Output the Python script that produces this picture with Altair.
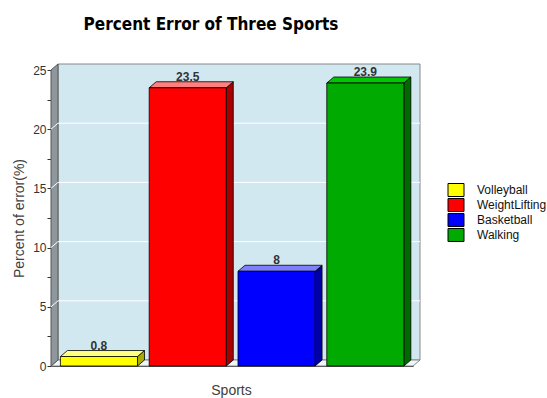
import altair as alt
import pandas as pd

# ---- data ----
sports = ["Volleyball", "WeightLifting", "Basketball", "Walking"]
errors = [0.8, 23.5, 8, 23.9]

# face shading for each bar: front, top (lit) and side (shadow)
front_colors = ["#FFFF00", "#FF0000", "#0000FF", "#00AA00"]
top_colors = ["#FFFF80", "#FF8080", "#8080FF", "#00C800"]
side_colors = ["#AAAA00", "#A80000", "#0000A8", "#006A00"]

Y_MAX = 25
y_tick_values = [0, 2.5, 5, 7.5, 10, 12.5, 15, 17.5, 20, 22.5, 25]
grid_values = [5, 10, 15, 20]

# ---- layout ----
PLOT_W, PLOT_H = 362, 296
DEPTH_X_PX, DEPTH_Y_PX = 7, 6
X_MIN, X_MAX = -0.54, 3.537
BAR_HALF = 0.434

# 3-D depth expressed in data units of each axis
dx = DEPTH_X_PX * (X_MAX - X_MIN) / PLOT_W
dy = DEPTH_Y_PX * Y_MAX / PLOT_H

FONT = "Liberation Sans"
TITLE_FONT = "Liberation Sans Narrow, DejaVu Sans Condensed, sans-serif"
TEXT_GREY = "#404040"

x_scale = alt.Scale(domain=[X_MIN, X_MAX], nice=False, zero=False)
y_scale = alt.Scale(domain=[0, Y_MAX], nice=False, zero=False)

x_axis = alt.Axis(
    title="Sports", labels=False, ticks=False, grid=False,
    domain=True, domainColor="#333333",
    titleFont=FONT, titleFontSize=14, titleFontWeight="normal",
    titleColor=TEXT_GREY, titleX=180, titleY=24,
    titleBaseline="middle", titleAlign="center",
)
y_axis = alt.Axis(
    values=y_tick_values,
    labelExpr="datum.value % 5 === 0 ? datum.label : ''",
    tickSize=4, tickColor="#333333", domainColor="#333333",
    labelFont=FONT, labelFontSize=12, labelColor="#333333",
    labelPadding=1, labelFlush=False, grid=False,
    title="Percent of error(%)", titleFont=FONT, titleFontSize=14,
    titleFontWeight="normal", titleColor=TEXT_GREY,
    titleX=-32, titleY=148, titleAngle=270,
    titleBaseline="middle", titleAlign="center",
)


def X(field):
    return alt.X(field, scale=x_scale, axis=x_axis)


def Y(field):
    return alt.Y(field, scale=y_scale, axis=y_axis)


# ---- tables ----
idx = list(range(len(sports)))
front = pd.DataFrame({
    "sport": sports,
    "value": errors,
    "x0": [i - BAR_HALF for i in idx],
    "x1": [i + BAR_HALF for i in idx],
    "center": idx,
    "label_y": [v + dy for v in errors],
})

side_rows, top_rows = [], []
for i, (s, v) in enumerate(zip(sports, errors)):
    x0, x1 = i - BAR_HALF, i + BAR_HALF
    side_rows += [
        {"sport": s, "x": x1, "lo": 0, "hi": v, "fill": side_colors[i]},
        {"sport": s, "x": x1 + dx, "lo": dy, "hi": v + dy, "fill": side_colors[i]},
    ]
    top_rows += [
        {"sport": s, "y": v, "xa": x0, "xb": x1, "fill": top_colors[i]},
        {"sport": s, "y": v + dy, "xa": x0 + dx, "xb": x1 + dx, "fill": top_colors[i]},
    ]
side = pd.DataFrame(side_rows)
top = pd.DataFrame(top_rows)

back_wall = pd.DataFrame({"x": [X_MIN + dx], "x2": [X_MAX + dx],
                          "y": [dy], "y2": [Y_MAX + dy]})
left_wall = pd.DataFrame({"x": [X_MIN, X_MIN + dx],
                          "lo": [0, dy], "hi": [Y_MAX, Y_MAX + dy]})
floor = pd.DataFrame({"y": [0, dy], "xa": [X_MIN, X_MIN + dx],
                      "xb": [X_MAX, X_MAX + dx]})

grid_rows = []
for v in grid_values:
    grid_rows += [
        {"g": v, "o": 0, "x": X_MIN, "y": v},
        {"g": v, "o": 1, "x": X_MIN + dx, "y": v + dy},
        {"g": v, "o": 2, "x": X_MAX + dx, "y": v + dy},
    ]
grid = pd.DataFrame(grid_rows)

# ---- layers ----
wall_layer = alt.Chart(back_wall).mark_rect(
    fill="#D2E8F0", stroke="#888888", strokeWidth=1
).encode(x=X("x:Q"), x2="x2:Q", y=Y("y:Q"), y2="y2:Q")

floor_layer = alt.Chart(floor).mark_area(
    orient="horizontal", fill="#EEF6F9", stroke="#888888", strokeWidth=1
).encode(y=Y("y:Q"), x=X("xa:Q"), x2="xb:Q")

left_layer = alt.Chart(left_wall).mark_area(
    fill="#8E989C", stroke="#555555", strokeWidth=1
).encode(x=X("x:Q"), y=Y("lo:Q"), y2="hi:Q")

grid_layer = alt.Chart(grid).mark_line(color="white", strokeWidth=1).encode(
    x=X("x:Q"), y=Y("y:Q"), detail="g:N", order="o:Q",
)

side_layer = alt.Chart(side).mark_area(stroke="black", strokeWidth=0.8).encode(
    x=X("x:Q"), y=Y("lo:Q"), y2="hi:Q",
    fill=alt.Fill("fill:N", scale=None), detail="sport:N",
)

top_layer = alt.Chart(top).mark_area(
    orient="horizontal", stroke="black", strokeWidth=0.8
).encode(
    y=Y("y:Q"), x=X("xa:Q"), x2="xb:Q",
    fill=alt.Fill("fill:N", scale=None), detail="sport:N",
)

front_layer = alt.Chart(front).mark_rect(
    stroke="black", strokeWidth=0.8, opacity=1
).encode(
    x=X("x0:Q"),
    x2="x1:Q",
    y=Y("value:Q"),
    y2=alt.Y2(datum=0),
    color=alt.Color("sport:N", scale=alt.Scale(domain=sports, range=front_colors),
                    sort=sports, legend=alt.Legend(
        title=None, orient="none", legendX=399, legendY=114,
        symbolType="M-1.6,-1.3L1.6,-1.3L1.6,1.3L-1.6,1.3Z", symbolSize=100,
        symbolStrokeColor="black", symbolStrokeWidth=1, symbolOpacity=1,
        labelFont=FONT, labelFontSize=12, labelColor="#111111",
        labelOffset=15, rowPadding=-3, padding=0, labelLimit=200,
    )),
)

label_layer = alt.Chart(front).mark_text(
    font=FONT, fontSize=12, fontWeight="bold", color="#333333",
    baseline="alphabetic", align="center", dy=-1,
).encode(
    x=X("center:Q"), y=Y("label_y:Q"),
    text=alt.Text("value:Q", format="~g"),
)

chart = alt.layer(
    wall_layer, floor_layer, left_layer, grid_layer,
    side_layer, top_layer, front_layer, label_layer,
).properties(
    width=PLOT_W,
    height=PLOT_H,
    title=alt.TitleParams(
        "Percent Error of Three Sports",
        font=TITLE_FONT,
        fontSize=17, fontWeight="bold", color="#000000",
        anchor="middle", frame="group", dx=-21, offset=28,
    ),
    autosize=alt.AutoSizeParams(type="none"),
    padding={"left": 51, "top": 70, "right": 134, "bottom": 32},
    background="white",
).configure_view(stroke=None)

chart.save("out.html", embed_options={"renderer": "svg", "actions": False})
